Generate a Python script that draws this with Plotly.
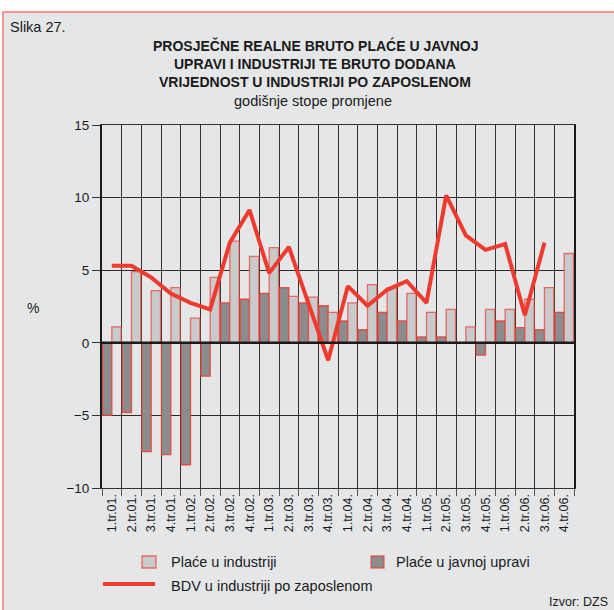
import plotly.graph_objects as go

categories = ["1.tr.01.", "2.tr.01.", "3.tr.01.", "4.tr.01.",
              "1.tr.02.", "2.tr.02.", "3.tr.02.", "4.tr.02.",
              "1.tr.03.", "2.tr.03.", "3.tr.03.", "4.tr.03.",
              "1.tr.04.", "2.tr.04.", "3.tr.04.", "4.tr.04.",
              "1.tr.05.", "2.tr.05.", "3.tr.05.", "4.tr.05.",
              "1.tr.06.", "2.tr.06.", "3.tr.06.", "4.tr.06."]

place_javna_uprava = [-5.0, -4.8, -7.5, -7.7, -8.4, -2.3, 2.75, 3.0,
                      3.4, 3.8, 2.75, 2.55, 1.5, 0.9, 2.1, 1.5,
                      0.4, 0.4, 0.0, -0.85, 1.5, 1.05, 0.9, 2.1]

place_industrija = [1.1, 4.9, 3.6, 3.8, 1.7, 4.5, 7.0, 5.95,
                    6.55, 3.2, 3.15, 2.1, 2.75, 4.0, 3.8, 3.4,
                    2.1, 2.3, 1.1, 2.3, 2.3, 3.0, 3.8, 6.15]

bdv_industrija = [5.3, 5.3, 4.5, 3.4, 2.75, 2.3, 6.9, 9.15,
                  4.8, 6.6, 2.7, -1.2, 3.9, 2.55, 3.65, 4.25,
                  2.75, 10.15, 7.4, 6.4, 6.8, 1.9, 6.9, None]

y_ticks = [-10, -5, 0, 5, 10, 15]

FONT = "Liberation Sans, Arial, Helvetica, sans-serif"
BG = "#e5e6e8"
RED = "#ee3b2e"
LIGHT = "#c9cacc"
DARK = "#8b8c8e"

x = list(range(len(categories)))

fig = go.Figure()
fig.add_trace(go.Bar(
    x=x, y=place_javna_uprava, name="Plaće u javnoj upravi",
    marker=dict(color=DARK, line=dict(color="rgba(238,59,46,0.85)", width=1.3)),
))
fig.add_trace(go.Bar(
    x=x, y=place_industrija, name="Plaće u industriji",
    marker=dict(color=LIGHT, line=dict(color="rgba(238,59,46,0.7)", width=1.3)),
))
fig.add_trace(go.Scatter(
    x=x, y=bdv_industrija, name="BDV u industriji po zaposlenom",
    mode="lines", line=dict(color=RED, width=4), connectgaps=False,
))

L, R, T, B = 102, 40, 125, 122
W, H = 614, 610
pw, ph = W - L - R, H - T - B


def px(xp):
    return (xp - L) / pw


def py(yp):
    return (H - B - yp) / ph


shapes = [
    dict(type="rect", xref="paper", yref="paper", layer="below",
         x0=px(3), x1=px(616), y0=py(614), y1=py(12),
         fillcolor=BG, line=dict(color="#f07a72", width=1.5)),
    dict(type="rect", xref="paper", yref="paper",
         x0=px(142), x1=px(156), y0=py(568), y1=py(556),
         fillcolor=LIGHT, line=dict(color="rgba(238,59,46,0.7)", width=1.3)),
    dict(type="rect", xref="paper", yref="paper",
         x0=px(371), x1=px(384), y0=py(568), y1=py(556),
         fillcolor=DARK, line=dict(color="rgba(238,59,46,0.7)", width=1.3)),
    dict(type="line", xref="paper", yref="paper",
         x0=px(103), x1=px(155), y0=py(584), y1=py(584),
         line=dict(color=RED, width=4)),
    dict(type="line", xref="paper", yref="y", x0=0, x1=1, y0=0, y1=0,
         line=dict(color="#1a1a1a", width=2.5)),
]

annotations = [
    dict(text="Slika 27.", x=px(8), y=py(27), xanchor="left", yanchor="middle",
         font=dict(size=14.5, color="#1a1a1a")),
    dict(text="<b>PROSJEČNE REALNE BRUTO PLAĆE U JAVNOJ</b>", x=px(315), y=py(45),
         xanchor="center", yanchor="middle", font=dict(size=14, color="#1a1a1a")),
    dict(text="<b>UPRAVI I INDUSTRIJI TE BRUTO DODANA</b>", x=px(315), y=py(64),
         xanchor="center", yanchor="middle", font=dict(size=14, color="#1a1a1a")),
    dict(text="<b>VRIJEDNOST U INDUSTRIJI PO ZAPOSLENOM</b>", x=px(315), y=py(82),
         xanchor="center", yanchor="middle", font=dict(size=14, color="#1a1a1a")),
    dict(text="godišnje stope promjene", x=px(313), y=py(101),
         xanchor="center", yanchor="middle", font=dict(size=14.5, color="#1a1a1a")),
    dict(text="%", x=px(33), y=py(308), xanchor="center", yanchor="middle",
         font=dict(size=14, color="#1a1a1a")),
    dict(text="Plaće u industriji", x=px(169), y=py(562), xanchor="left", yanchor="middle",
         font=dict(size=14.5, color="#1a1a1a")),
    dict(text="Plaće u javnoj upravi", x=px(394), y=py(562), xanchor="left", yanchor="middle",
         font=dict(size=14.5, color="#1a1a1a")),
    dict(text="BDV u industriji po zaposlenom", x=px(169), y=py(586), xanchor="left",
         yanchor="middle", font=dict(size=14.5, color="#1a1a1a")),
    dict(text="Izvor: DZS", x=px(610), y=py(602), xanchor="right", yanchor="middle",
         font=dict(size=12.5, color="#1a1a1a")),
]
for a in annotations:
    a.update(xref="paper", yref="paper", showarrow=False)

fig.update_layout(
    width=W, height=H,
    margin=dict(l=L, r=R, t=T, b=B, pad=0),
    paper_bgcolor="white",
    plot_bgcolor="rgba(0,0,0,0)",
    font=dict(family=FONT, color="#1a1a1a"),
    barmode="group", bargap=0.05, bargroupgap=0,
    showlegend=False,
    shapes=shapes,
    annotations=annotations,
    xaxis=dict(
        range=[-0.5, len(categories) - 0.5],
        tickmode="array", tickvals=x, ticktext=categories,
        tickangle=-90, ticks="", showgrid=False,
        tickfont=dict(size=12.5, color="#1a1a1a"),
        showline=True, linecolor="#333", linewidth=1, mirror=True,
        zeroline=False,
        minor=dict(tickmode="linear", tick0=-0.5, dtick=1, ticks="outside",
                   ticklen=7, tickcolor="#555", tickwidth=1,
                   showgrid=True, gridcolor="#333333", gridwidth=1.2),
    ),
    yaxis=dict(
        range=[-10, 15], tickmode="array", tickvals=y_ticks,
        ticks="outside", ticklen=8, tickcolor="#333", tickwidth=1,
        showgrid=True, gridcolor="#2a2a2a", gridwidth=1,
        tickfont=dict(size=13.5, color="#1a1a1a"),
        showline=True, linecolor="#1a1a1a", linewidth=2, mirror=True,
        zeroline=False,
    ),
)

fig.write_html("out.html",
               config={"displayModeBar": False},
               post_script="document.body.style.margin='0';document.body.style.overflow='hidden';")
